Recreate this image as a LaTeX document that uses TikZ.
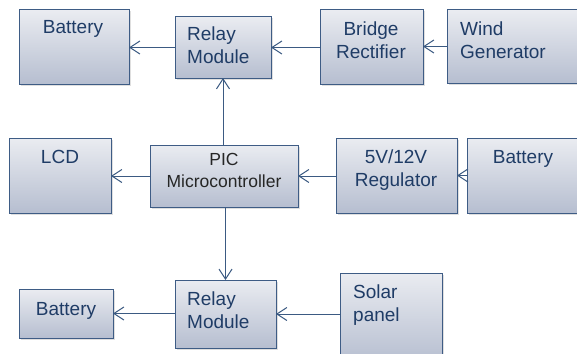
\documentclass[tikz,border=0pt]{standalone}
\usepackage{fontspec}
\setmainfont{Liberation Sans}
\usetikzlibrary{arrows.meta,shadows}
\definecolor{boxtop}{HTML}{EAECF1}
\definecolor{boxbot}{HTML}{B6BED0}
\definecolor{boxline}{HTML}{3E5C85}
\definecolor{txtblue}{HTML}{1F3C66}
\definecolor{arrcol}{HTML}{3B5A82}
\begin{document}
\begin{tikzpicture}[x=1pt,y=-1pt,
  blk/.style={draw=boxline, line width=1pt, top color=boxtop, bottom color=boxbot,
    inner sep=0pt, outer sep=0pt, drop shadow={shadow xshift=1.5pt, shadow yshift=-1.5pt, opacity=.25}},
  lbl/.style={inner sep=0pt, text=txtblue, font=\fontsize{19}{23}\selectfont},
  arr/.style={draw=arrcol, line width=1pt, -{Straight Barb[length=10pt,width=13pt,line width=1pt]}}]
\useasboundingbox (0,0) rectangle (577,353);
\fill[white] (0,0) rectangle (577,353);
% row 1
\node[blk, minimum width=110pt, minimum height=74pt] (b1) at (74,47) {};
\node[blk, minimum width=96pt, minimum height=61pt] (r1) at (223,47.5) {};
\node[blk, minimum width=103pt, minimum height=74pt] (br) at (371.5,47) {};
\node[blk, minimum width=135pt, minimum height=73pt] (wg) at (514.5,46.5) {};
% row 2
\node[blk, minimum width=102pt, minimum height=75pt] (lcd) at (60,175.5) {};
\node[blk, minimum width=148pt, minimum height=62pt] (pic) at (224,176) {};
\node[blk, minimum width=121pt, minimum height=75pt] (reg) at (396.5,175.5) {};
\node[blk, minimum width=120pt, minimum height=75pt] (bat2) at (527,175.5) {};
% row 3
\node[blk, minimum width=94pt, minimum height=49pt] (b3) at (66,313.5) {};
\node[blk, minimum width=101pt, minimum height=68pt] (r3) at (225.5,314) {};
\node[blk, minimum width=102pt, minimum height=90pt] (sol) at (391,318) {};
% texts
\node[lbl, anchor=north] (tb1) at (73,20) {Battery};
\node[lbl, anchor=north west, align=left] (tr1) at (187,27) {Relay\\Module};
\node[lbl, anchor=north, align=center] (tbr) at (371,22) {Bridge\\Rectifier};
\node[lbl, anchor=north west, align=left] (twg) at (460,22) {Wind\\Generator};
\node[lbl, anchor=north] (tlcd) at (60,150) {LCD};
\node[lbl, anchor=north, align=center, text=black!85, font=\fontsize{17.5}{22}\selectfont] (tpic) at (224,153) {PIC\\Microcontroller};
\node[lbl, anchor=north, align=center] (treg) at (396,150) {5V/12V\\Regulator};
\node[lbl, anchor=north] (tbat2) at (523,150) {Battery};
\node[lbl, anchor=north] (tb3) at (66,302) {Battery};
\node[lbl, anchor=north west, align=left] (tr3) at (187,292) {Relay\\Module};
\node[lbl, anchor=north west, align=left] (tsol) at (353,285) {Solar\\panel};
% connectors
\draw[arr] (r1.west) -- (b1.east |- r1.west);
\draw[arr] (br.west |- r1.east) -- (r1.east);
\draw[arr] (wg.west) -- (br.east |- wg.west);
\draw[arr] (pic.north -| r1.south) -- (r1.south);
\draw[arr] (pic.west) -- (lcd.east |- pic.west);
\draw[arr] (reg.west |- pic.east) -- (pic.east);
\draw[arr] (bat2.west) -- (reg.east |- bat2.west);
\draw[arr] (pic.south -| r3.north) -- (r3.north);
\draw[arr] (r3.west |- b3.east) -- (b3.east);
\draw[arr] (sol.west |- r3.east) -- (r3.east);
\end{tikzpicture}
\end{document}
